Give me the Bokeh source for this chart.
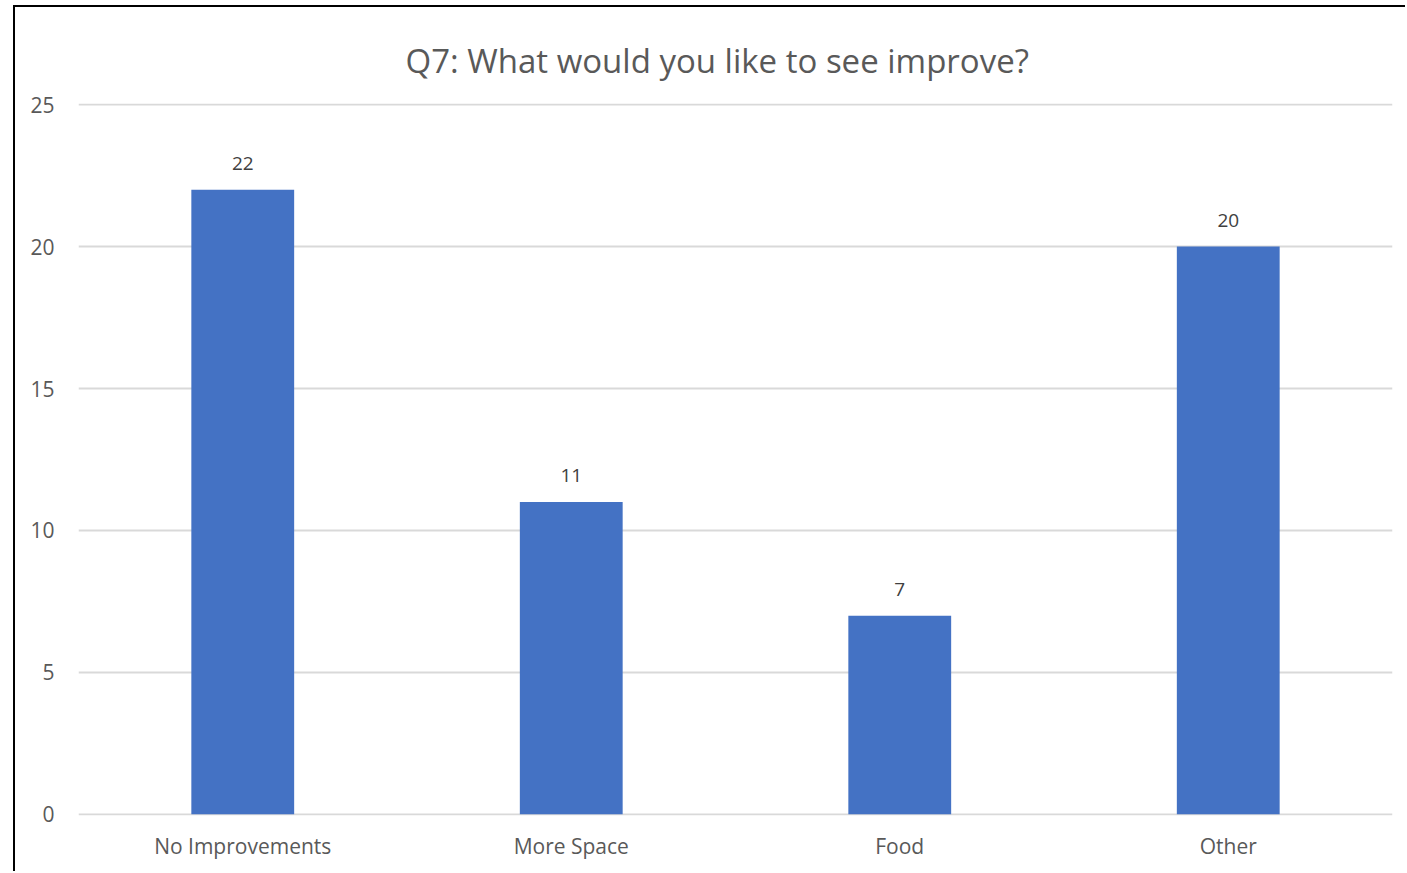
from bokeh.plotting import figure
from bokeh.models import ColumnDataSource, LabelSet, Title, FixedTicker, Range1d
from bokeh.core.properties import value
from bokeh.embed import file_html
from bokeh.resources import INLINE

categories = ["No Improvements", "More Space", "Food", "Other"]
counts = [22, 11, 7, 20]
y_ticks = [0, 5, 10, 15, 20, 25]
title_text = "Q7: What would you like to see improve?"

src = ColumnDataSource(dict(cat=categories, val=counts, lab=[str(v) for v in counts]))

FONT = "Open Sans"
p = figure(x_range=categories, y_range=Range1d(-0.04, 25.04), width=1392, height=866,
           output_backend="svg", toolbar_location=None,
           min_border_left=63, min_border_right=15, min_border_top=96, min_border_bottom=58,
           styles={"border-left": "2px solid black", "border-top": "2px solid black",
                   "margin-left": "13px", "margin-top": "5px"})
p.title = None
p.add_layout(Title(text=title_text, align="left", offset=327, standoff=38,
                   vertical_align="top",
                   text_font=FONT, text_font_size="33px", text_font_style="normal",
                   text_color="#595959"), "above")

p.vbar(x="cat", top="val", width=0.313, source=src, color="#4472C4", line_color=None)

labels = LabelSet(x="cat", y="val", text="lab", source=src, text_align="center",
                  text_baseline="bottom", y_offset=20, text_font=value(FONT),
                  text_font_size="19px", text_color="#404040")
p.add_layout(labels)

p.outline_line_color = None
p.xgrid.grid_line_color = None
p.ygrid.grid_line_color = "#d9d9d9"
p.ygrid.grid_line_width = 2
p.yaxis.ticker = FixedTicker(ticks=y_ticks)
for ax in (p.xaxis[0], p.yaxis[0]):
    ax.axis_line_color = None
    ax.major_tick_line_color = None
    ax.minor_tick_line_color = None
    ax.major_label_text_font = FONT
    ax.major_label_text_font_size = "21px"
    ax.major_label_text_color = "#595959"
p.yaxis.major_label_standoff = 18
p.xaxis.major_label_standoff = 10
p.x_range.range_padding = 0

open("out.html", "w").write(file_html(p, INLINE))
